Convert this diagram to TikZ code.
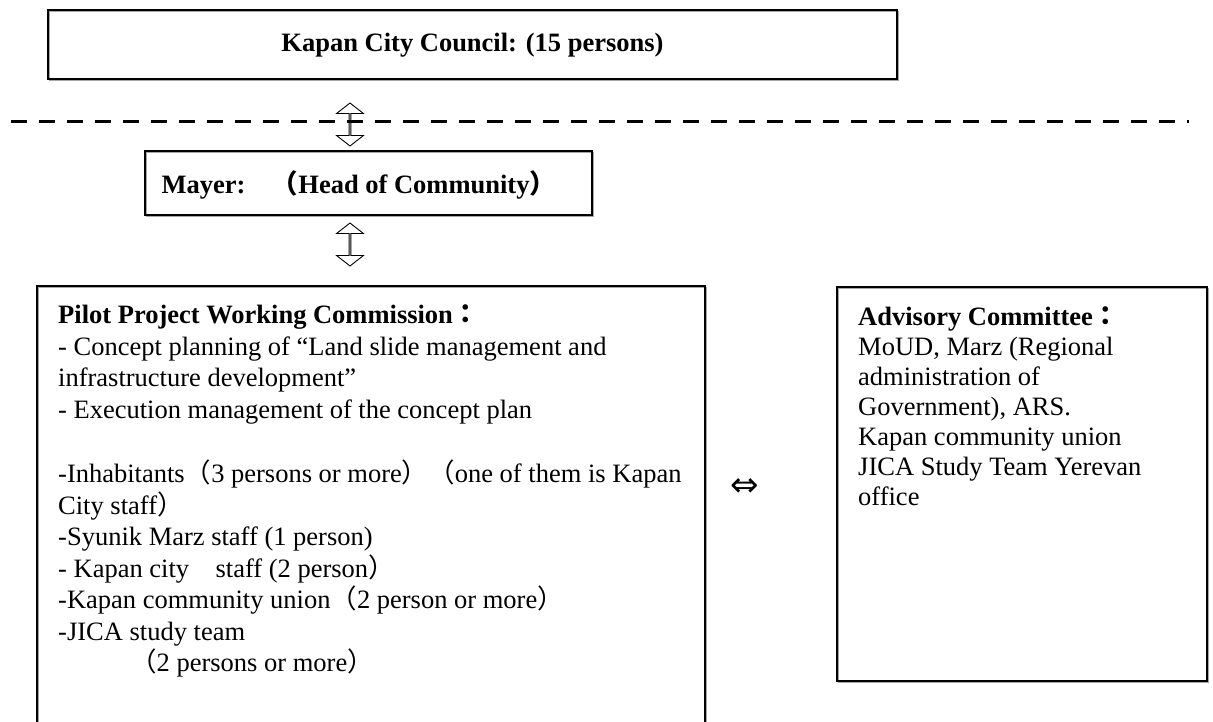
\documentclass[tikz,border=0pt]{standalone}
\usepackage{fontspec}
\setmainfont{Liberation Serif}
\newfontfamily\cjk{Noto Sans CJK JP}
\newfontfamily\symfont{DejaVu Sans}
\usetikzlibrary{shapes.arrows}
\newcommand{\lpar}{{\cjk （}}
\newcommand{\rpar}{{\cjk ）}}
\newcommand{\fcolon}{{\cjk ：}}
\newcommand{\fspace}{{\cjk 　}}
\tikzset{
  x=1pt, y=-1pt,
  frame/.style={draw, line width=1.6pt},
  frameshadow/.style={draw=black!35, line width=1.2pt, shift={(1.6,1.6)}},
  titlefont/.style={font=\fontsize{26.5}{31}\selectfont\bfseries},
  body/.style={align=left, anchor=north west, inner sep=0pt},
  vlink/.style={double arrow, draw, line width=0.9pt, shape border rotate=90,
    minimum width=27pt, minimum height=43pt, double arrow head extend=6.5pt,
    double arrow tip angle=104, inner sep=0pt},
}
\begin{document}
\begin{tikzpicture}
\useasboundingbox (0,0) rectangle (1213,722);
% city council
\draw[frameshadow] (48,10) rectangle (897,79);
\draw[frame] (48,10) rectangle (897,79);
\node[titlefont] (council) at (472.5,45) {Kapan City Council: (15 persons)};
% boundary between council and administration
\coordinate (dashL) at (11,122);
\coordinate (dashR) at (1189,122);
\draw[line width=3pt, dash pattern=on 16pt off 12pt] (dashL) -- (dashR);
% mayor
\draw[frameshadow] (145,151) rectangle (592,215);
\draw[frame] (145,151) rectangle (592,215);
\node[titlefont, anchor=west] (mayer) at (158,185) {Mayer:\fspace\lpar Head of Community\rpar};
% vertical links
\node[vlink] (link1) at (350,124.5) {};
\node[vlink] (link2) at (350,244.5) {};
% working commission
\draw[frameshadow] (37,286) rectangle (705,760);
\draw[frame] (37,286) rectangle (705,760);
\node[body, font=\fontsize{26.5}{31.5}\selectfont] (pilot) at (58,301.3) {%
\strut\textbf{Pilot Project Working Commission\fcolon}\\
- Concept planning of “Land slide management and\\
infrastructure development”\\
- Execution management of the concept plan\\
\strut\\
-Inhabitants\lpar 3 persons or more\rpar\lpar one of them is Kapan\\
City staff\rpar\\
-Syunik Marz staff (1 person)\\
- Kapan city\fspace staff (2 person\rpar\\
-Kapan community union\lpar 2 person or more\rpar\\
-JICA study team\\
\hspace*{72pt}\lpar 2 persons or more\rpar};
% advisory committee
\draw[frameshadow] (837,287) rectangle (1207,681);
\draw[frame] (837,287) rectangle (1207,681);
\node[body, font=\fontsize{26.5}{30}\selectfont] (advisory) at (858,304) {%
\strut\textbf{Advisory Committee\fcolon}\\
MoUD, Marz (Regional\\
administration of\\
Government), ARS.\\
Kapan community union\\
JICA Study Team Yerevan\\
office};
% horizontal link between the two bodies
\node[font=\symfont\fontsize{34}{36}\selectfont, inner sep=0pt] (hlink) at (745,488) {⇔};
\end{tikzpicture}
\end{document}
